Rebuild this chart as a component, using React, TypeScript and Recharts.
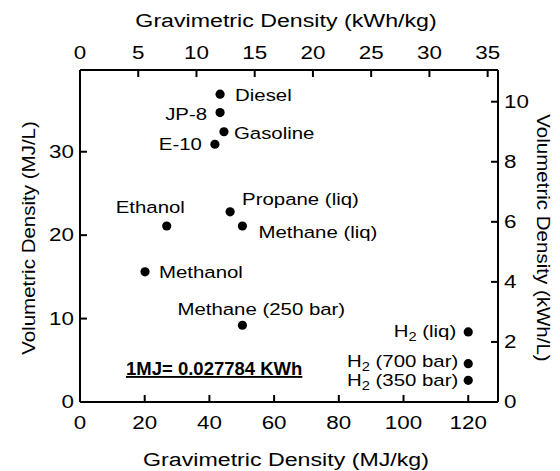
import React from 'react';
import { ScatterChart, Scatter, XAxis, YAxis } from 'recharts';

// Energy density of common fuels
const fuels = [
  'Diesel',
  'JP-8',
  'Gasoline',
  'E-10',
  'Ethanol',
  'Propane (liq)',
  'Methane (liq)',
  'Methanol',
  'Methane (250 bar)',
  'H2 (liq)',
  'H2 (700 bar)',
  'H2 (350 bar)',
];
const gravimetricMJperKg = [43.3, 43.3, 44.5, 41.7, 26.8, 46.4, 50.2, 20.1, 50.2, 120, 120, 120];
const volumetricMJperL = [36.9, 34.7, 32.4, 30.9, 21.1, 22.8, 21.1, 15.6, 9.2, 8.4, 4.6, 2.6];

const mjPerKgTicks = [0, 20, 40, 60, 80, 100, 120];
const kwhPerKgTicks = [0, 5, 10, 15, 20, 25, 30, 35];
const mjPerLTicks = [0, 10, 20, 30];
const kwhPerLTicks = [0, 2, 4, 6, 8, 10];

const MJ_PER_KWH = 3.6;
const GRAV_MAX = 129.2;
const VOL_MAX = 39.8;

const points = fuels.map((name, i) => ({
  name,
  x: gravimetricMJperKg[i],
  y: volumetricMJperL[i],
}));

// same fuels in kWh units, carried by the secondary (top / right) axes
const pointsKwh = points.map((p) => ({ name: p.name, x: p.x / MJ_PER_KWH, y: p.y / MJ_PER_KWH }));

type Anchor = 'start' | 'middle' | 'end';
// where each fuel's name sits relative to its marker
const labelPlacement: Record<string, { dx: number; dy: number; anchor: Anchor }> = {
  Diesel: { dx: 15, dy: 7, anchor: 'start' },
  'JP-8': { dx: -13, dy: 7, anchor: 'end' },
  Gasoline: { dx: 10, dy: 7, anchor: 'start' },
  'E-10': { dx: -13, dy: 6, anchor: 'end' },
  Ethanol: { dx: -51, dy: -13, anchor: 'start' },
  'Propane (liq)': { dx: 12, dy: -7, anchor: 'start' },
  'Methane (liq)': { dx: 16, dy: 12, anchor: 'start' },
  Methanol: { dx: 14, dy: 6, anchor: 'start' },
  'Methane (250 bar)': { dx: -65, dy: -10, anchor: 'start' },
  'H2 (liq)': { dx: -12, dy: 5, anchor: 'end' },
  'H2 (700 bar)': { dx: -10, dy: 3, anchor: 'end' },
  'H2 (350 bar)': { dx: -10, dy: 6, anchor: 'end' },
};

const FONT = '"Liberation Sans", Arial, Helvetica, sans-serif';
const INK = '#000';

function WideText(props: {
  x: number;
  y: number;
  size: number;
  sx: number;
  anchor: Anchor;
  rotate?: number;
  children: React.ReactNode;
}) {
  const { x, y, size, sx, anchor, rotate = 0, children } = props;
  return (
    <text
      transform={`translate(${x},${y}) rotate(${rotate}) scale(${sx},1)`}
      textAnchor={anchor}
      fontSize={size}
      fontFamily={FONT}
      fill={INK}
      stroke="none"
    >
      {children}
    </text>
  );
}

function fuelName(name: string) {
  if (name.startsWith('H2')) {
    return [
      <tspan key="h">H</tspan>,
      <tspan key="s" fontSize="0.72em" dy={4}>
        2
      </tspan>,
      <tspan key="r" dy={-4}>
        {name.slice(2)}
      </tspan>,
    ];
  }
  return name;
}

function FuelMark(props: any) {
  const { cx, cy, payload } = props;
  const place = labelPlacement[payload.name];
  return (
    <g>
      <circle cx={cx} cy={cy} r={4.6} fill={INK} />
      <WideText x={cx + place.dx} y={cy + place.dy} size={17} sx={1.2} anchor={place.anchor}>
        {fuelName(payload.name)}
      </WideText>
    </g>
  );
}

const NoMark = () => <g />;

const TICK_SIZE = 17.5;
const TICK_SX = 1.28;

const BottomTick = (p: any) => (
  <WideText x={p.x} y={p.y} size={TICK_SIZE} sx={TICK_SX} anchor="middle">
    {p.payload.value}
  </WideText>
);
const TopTick = (p: any) => (
  <WideText x={p.x} y={p.y} size={TICK_SIZE} sx={TICK_SX} anchor="middle">
    {p.payload.value}
  </WideText>
);
const LeftTick = (p: any) => (
  <WideText x={p.x} y={p.y + 6} size={TICK_SIZE} sx={TICK_SX} anchor="end">
    {p.payload.value}
  </WideText>
);
const RightTick = (p: any) => (
  <WideText x={p.x} y={p.y + 6} size={TICK_SIZE} sx={TICK_SX} anchor="start">
    {p.payload.value}
  </WideText>
);

export default function App() {
  return (
    <div style={{ position: 'absolute', left: 0, top: 0, width: 560, height: 471, background: '#fff' }}>
      <ScatterChart width={560} height={471} margin={{ top: 0, right: 0, bottom: 0, left: 0 }}>
        <XAxis
          xAxisId="bottom"
          orientation="bottom"
          type="number"
          dataKey="x"
          domain={[0, GRAV_MAX]}
          allowDataOverflow
          ticks={mjPerKgTicks}
          interval={0}
          height={69}
          tickSize={-7}
          tickMargin={34}
          stroke={INK}
          strokeWidth={2}
          axisLine
          tickLine
          tick={BottomTick}
          label={{
            content: (lp: any) => {
              const vb = lp.viewBox;
              return (
                <WideText x={vb.x + vb.width / 2 - 3} y={vb.y + 64} size={19} sx={1.22} anchor="middle">
                  Gravimetric Density (MJ/kg)
                </WideText>
              );
            },
          }}
        />
        <XAxis
          xAxisId="top"
          orientation="top"
          type="number"
          dataKey="x"
          domain={[0, GRAV_MAX / MJ_PER_KWH]}
          allowDataOverflow
          ticks={kwhPerKgTicks}
          interval={0}
          height={70}
          tickSize={-7}
          tickMargin={18}
          stroke={INK}
          strokeWidth={2}
          axisLine
          tickLine
          tick={TopTick}
          label={{
            content: (lp: any) => {
              const vb = lp.viewBox;
              return (
                <WideText x={vb.x + vb.width / 2 - 3} y={vb.y + 27} size={19} sx={1.22} anchor="middle">
                  Gravimetric Density (kWh/kg)
                </WideText>
              );
            },
          }}
        />
        <YAxis
          yAxisId="left"
          orientation="left"
          type="number"
          dataKey="y"
          domain={[0, VOL_MAX]}
          allowDataOverflow
          ticks={mjPerLTicks}
          interval={0}
          width={80}
          tickSize={-7}
          tickMargin={13}
          stroke={INK}
          strokeWidth={2}
          axisLine
          tickLine
          tick={LeftTick}
          label={{
            content: (lp: any) => {
              const vb = lp.viewBox;
              return (
                <WideText x={vb.x + 35} y={vb.y + vb.height / 2 + 2} size={18} sx={1.14} anchor="middle" rotate={-90}>
                  Volumetric Density (MJ/L)
                </WideText>
              );
            },
          }}
        />
        <YAxis
          yAxisId="right"
          orientation="right"
          type="number"
          dataKey="y"
          domain={[0, VOL_MAX / MJ_PER_KWH]}
          allowDataOverflow
          ticks={kwhPerLTicks}
          interval={0}
          width={62}
          tickSize={-7}
          tickMargin={13}
          stroke={INK}
          strokeWidth={2}
          axisLine
          tickLine
          tick={RightTick}
          label={{
            content: (lp: any) => {
              const vb = lp.viewBox;
              return (
                <WideText x={vb.x + 39} y={vb.y + vb.height / 2 + 2} size={18} sx={1.14} anchor="middle" rotate={90}>
                  Volumetric Density (kWh/L)
                </WideText>
              );
            },
          }}
        />
        <Scatter
          data={pointsKwh}
          xAxisId="top"
          yAxisId="right"
          isAnimationActive={false}
          shape={NoMark}
        />
        <Scatter
          data={points}
          xAxisId="bottom"
          yAxisId="left"
          isAnimationActive={false}
          shape={(p: any) => <FuelMark {...p} />}
        />
      </ScatterChart>
      <svg
        width={560}
        height={471}
        style={{ position: 'absolute', left: 0, top: 0, pointerEvents: 'none' }}
      >
        <text
          x={126}
          y={375}
          fontSize={18.5}
          fontWeight="bold"
          fontFamily={FONT}
          fill={INK}
          textDecoration="underline"
        >
          1MJ= 0.027784 KWh
        </text>
      </svg>
    </div>
  );
}
